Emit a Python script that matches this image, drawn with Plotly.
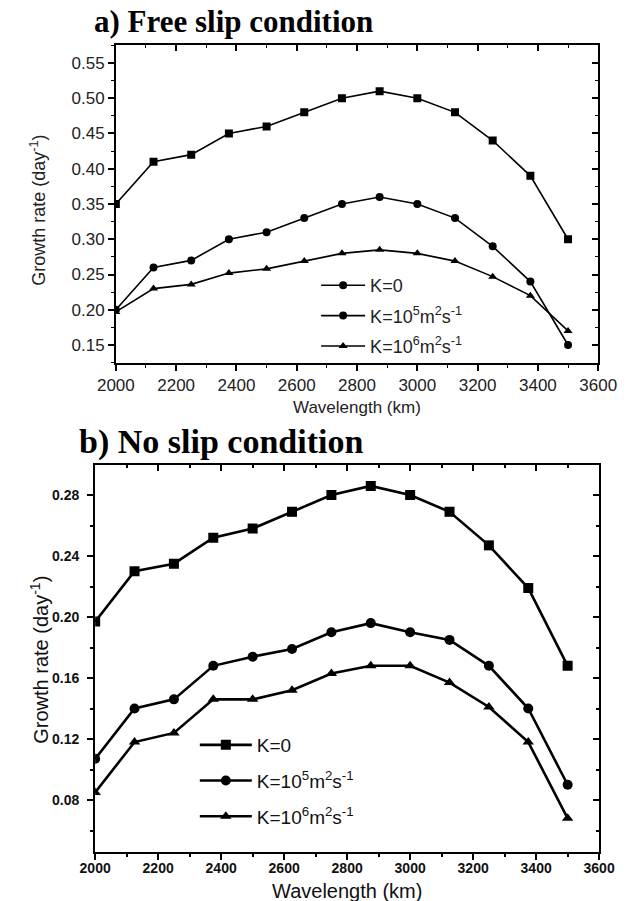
import plotly.graph_objects as go

# ---------------- data ----------------
wavelength = [2000, 2125, 2250, 2375, 2500, 2625, 2750, 2875, 3000, 3125, 3250, 3375, 3500]

free_k0 = [0.35, 0.41, 0.42, 0.45, 0.46, 0.48, 0.50, 0.51, 0.50, 0.48, 0.44, 0.39, 0.30]
free_k5 = [0.20, 0.26, 0.27, 0.30, 0.31, 0.33, 0.35, 0.36, 0.35, 0.33, 0.29, 0.24, 0.15]
free_k6 = [0.197, 0.230, 0.236, 0.252, 0.258, 0.269, 0.280, 0.285, 0.280, 0.269, 0.247, 0.220, 0.170]

noslip_k0 = [0.197, 0.230, 0.235, 0.252, 0.258, 0.269, 0.280, 0.286, 0.280, 0.269, 0.247, 0.219, 0.168]
noslip_k5 = [0.107, 0.140, 0.146, 0.168, 0.174, 0.179, 0.190, 0.196, 0.190, 0.185, 0.168, 0.140, 0.090]
noslip_k6 = [0.085, 0.118, 0.124, 0.146, 0.146, 0.152, 0.163, 0.168, 0.168, 0.157, 0.141, 0.118, 0.068]

x_ticks = [2000, 2200, 2400, 2600, 2800, 3000, 3200, 3400, 3600]
top_y_ticks = [0.15, 0.20, 0.25, 0.30, 0.35, 0.40, 0.45, 0.50, 0.55]
bottom_y_ticks = [0.08, 0.12, 0.16, 0.20, 0.24, 0.28]

legend_labels = ["K=0",
                 "K=10<sup>5</sup>m<sup>2</sup>s<sup>-1</sup>",
                 "K=10<sup>6</sup>m<sup>2</sup>s<sup>-1</sup>"]
top_legend_symbols = ["circle", "circle", "triangle-up"]
bottom_symbols = ["square", "circle", "triangle-up"]

W, H = 636, 901


def px_x(p):
    return p / W


def px_y(p):
    return 1 - p / H


fig = go.Figure()

# ---------------- top panel ----------------
for ys, sym in zip([free_k0, free_k5, free_k6], ["square", "circle", "triangle-up"]):
    fig.add_trace(go.Scatter(x=wavelength, y=ys, mode="lines+markers",
                             line=dict(color="black", width=1.6),
                             marker=dict(symbol=sym, size=8, color="black"),
                             xaxis="x", yaxis="y", showlegend=False))
for i, (lab, sym) in enumerate(zip(legend_labels, top_legend_symbols)):
    fig.add_trace(go.Scatter(x=[None], y=[None], mode="lines+markers", name=lab,
                             line=dict(color="black", width=1.6),
                             marker=dict(symbol=sym, size=8, color="black"),
                             xaxis="x", yaxis="y", legend="legend", legendgroup="t%d" % i))

# ---------------- bottom panel ----------------
for i, (ys, sym, lab) in enumerate(zip([noslip_k0, noslip_k5, noslip_k6], bottom_symbols, legend_labels)):
    fig.add_trace(go.Scatter(x=wavelength, y=ys, mode="lines+markers", name=lab,
                             line=dict(color="black", width=2.6),
                             marker=dict(symbol=sym, size=10, color="black"),
                             xaxis="x2", yaxis="y2", legend="legend2", legendgroup="b%d" % i))

# dummy traces for mirrored (inside-tick) axes
for xa, ya in [("x3", "y"), ("x", "y3"), ("x4", "y2"), ("x2", "y4")]:
    fig.add_trace(go.Scatter(x=[None], y=[None], xaxis=xa, yaxis=ya, showlegend=False,
                             hoverinfo="skip"))

top_dom_x = [px_x(103), px_x(616)]
top_dom_y = [px_y(363), px_y(45)]
bot_dom_x = [px_x(81), px_x(617)]
bot_dom_y = [px_y(852), px_y(465)]

top_yrange = [0.1245, 0.5755]
bot_yrange = [0.0459, 0.2997]
xrange = [2000, 3600]

tick_font_top = dict(family="Liberation Sans, Arial", size=17, color="#222")
tick_font_bot = dict(family="Liberation Sans, Arial", size=14, color="#111", weight=700)

fig.update_layout(
    width=W, height=H,
    margin=dict(l=0, r=0, t=0, b=0),
    paper_bgcolor="white", plot_bgcolor="white",
    xaxis=dict(domain=top_dom_x, anchor="y", range=xrange, tickvals=x_ticks,
               ticks="outside", ticklen=6, tickwidth=1.5, tickcolor="black",
               showline=True, linecolor="black", linewidth=1.6, showgrid=False, zeroline=False,
               tickfont=tick_font_top,
               minor=dict(dtick=100, ticks="outside", ticklen=3, tickwidth=1.2, tickcolor="black")),
    yaxis=dict(domain=top_dom_y, anchor="x", range=top_yrange, tickvals=top_y_ticks,
               tickformat=".2f",
               ticks="outside", ticklen=6, tickwidth=1.5, tickcolor="black",
               showline=True, linecolor="black", linewidth=1.6, showgrid=False, zeroline=False,
               tickfont=tick_font_top,
               minor=dict(dtick=0.025, ticks="outside", ticklen=3, tickwidth=1.2, tickcolor="black")),
    xaxis3=dict(overlaying="x", side="top", anchor="y", range=xrange, tickvals=x_ticks,
                ticks="inside", ticklen=6, tickwidth=1.5, tickcolor="black", showticklabels=False,
                showline=True, linecolor="black", linewidth=1.6, showgrid=False, zeroline=False,
                minor=dict(dtick=100, ticks="inside", ticklen=3, tickwidth=1.2, tickcolor="black")),
    yaxis3=dict(overlaying="y", side="right", anchor="x", range=top_yrange, tickvals=top_y_ticks,
                ticks="inside", ticklen=6, tickwidth=1.5, tickcolor="black", showticklabels=False,
                showline=True, linecolor="black", linewidth=1.6, showgrid=False, zeroline=False,
                minor=dict(dtick=0.025, ticks="inside", ticklen=3, tickwidth=1.2, tickcolor="black")),
    xaxis2=dict(domain=bot_dom_x, anchor="y2", range=xrange, tickvals=x_ticks,
                ticks="outside", ticklen=6, tickwidth=2, tickcolor="black",
                showline=True, linecolor="black", linewidth=2.2, showgrid=False, zeroline=False,
                tickfont=tick_font_bot, ticklabelstandoff=-4,
                minor=dict(dtick=100, ticks="outside", ticklen=3, tickwidth=1.5, tickcolor="black")),
    yaxis2=dict(domain=bot_dom_y, anchor="x2", range=bot_yrange, tickvals=bottom_y_ticks,
                tickformat=".2f", ticklabelstandoff=5,
                ticks="outside", ticklen=6, tickwidth=2, tickcolor="black",
                showline=True, linecolor="black", linewidth=2.2, showgrid=False, zeroline=False,
                tickfont=tick_font_bot,
                minor=dict(dtick=0.02, ticks="outside", ticklen=3, tickwidth=1.5, tickcolor="black")),
    xaxis4=dict(overlaying="x2", side="top", anchor="y2", range=xrange, tickvals=x_ticks,
                ticks="inside", ticklen=6, tickwidth=2, tickcolor="black", showticklabels=False,
                showline=True, linecolor="black", linewidth=2.2, showgrid=False, zeroline=False,
                minor=dict(dtick=100, ticks="inside", ticklen=3, tickwidth=1.5, tickcolor="black")),
    yaxis4=dict(overlaying="y2", side="right", anchor="x2", range=bot_yrange, tickvals=bottom_y_ticks,
                ticks="inside", ticklen=6, tickwidth=2, tickcolor="black", showticklabels=False,
                showline=True, linecolor="black", linewidth=2.2, showgrid=False, zeroline=False,
                minor=dict(dtick=0.02, ticks="inside", ticklen=3, tickwidth=1.5, tickcolor="black")),
    legend=dict(x=px_x(316), y=px_y(267), xanchor="left", yanchor="top",
                bgcolor="rgba(0,0,0,0)", itemwidth=44, tracegroupgap=4,
                font=dict(family="Liberation Sans, Arial", size=18, color="#222")),
    legend2=dict(x=px_x(187), y=px_y(726), xanchor="left", yanchor="top",
                 bgcolor="rgba(0,0,0,0)", itemwidth=52, tracegroupgap=8,
                 font=dict(family="Liberation Sans, Arial", size=19, color="#111")),
)

annotations = [
    dict(text="<b>a) Free slip condition</b>", x=px_x(78), y=px_y(22), xanchor="left", yanchor="middle",
         font=dict(family="Liberation Serif, Times New Roman", size=31, color="black")),
    dict(text="<b>b) No slip condition</b>", x=px_x(62), y=px_y(442), xanchor="left", yanchor="middle",
         font=dict(family="Liberation Serif, Times New Roman", size=34, color="black")),
    dict(text="Wavelength (km)", x=px_x(360), y=px_y(407), xanchor="center", yanchor="middle",
         font=dict(family="Liberation Sans, Arial", size=17, color="#222")),
    dict(text="Growth rate (day<sup>-1</sup>)", x=px_x(20), y=px_y(210), xanchor="center", yanchor="middle",
         textangle=-90, font=dict(family="Liberation Sans, Arial", size=18, color="#222")),
    dict(text="Wavelength (km)", x=px_x(349), y=px_y(891), xanchor="center", yanchor="middle",
         font=dict(family="Liberation Sans, Arial", size=20, color="#111")),
    dict(text="Growth rate (day<sup>-1</sup>)", x=px_x(21), y=px_y(660), xanchor="center", yanchor="middle",
         textangle=-90, font=dict(family="Liberation Sans, Arial", size=20, color="#111")),
]
for a in annotations:
    a.update(xref="paper", yref="paper", showarrow=False)
fig.update_layout(annotations=annotations)

fig.write_html("out.html")
